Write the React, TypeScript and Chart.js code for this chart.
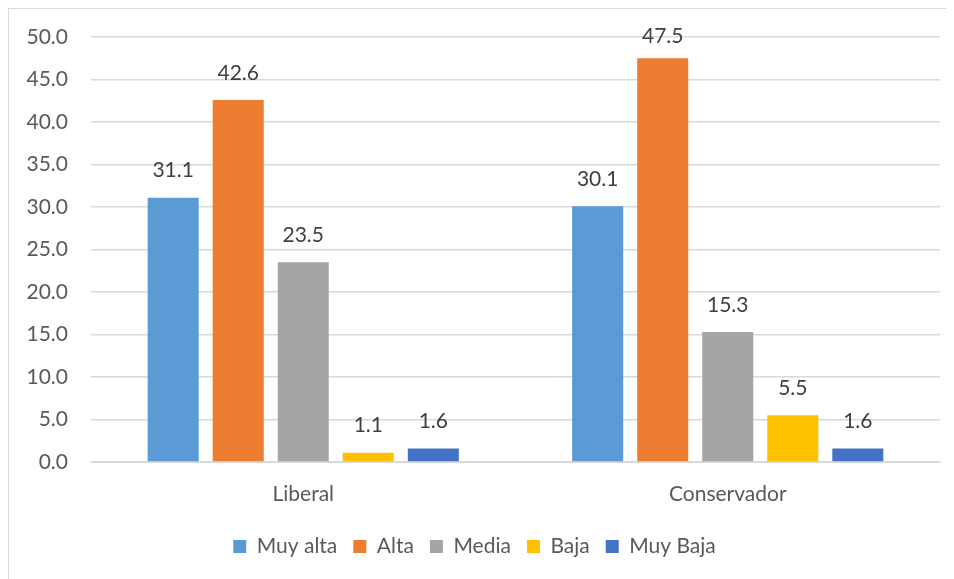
import React, { useEffect, useRef } from "react";
import { Chart, registerables } from "chart.js";

Chart.register(...registerables);

const categories = ["Liberal", "Conservador"];
const seriesNames = ["Muy alta", "Alta", "Media", "Baja", "Muy Baja"];
const muyAlta = [31.1, 30.1];
const alta = [42.6, 47.5];
const media = [23.5, 15.3];
const baja = [1.1, 5.5];
const muyBaja = [1.6, 1.6];
const seriesColors = ["#5B9BD5", "#ED7D31", "#A5A5A5", "#FFC000", "#4472C4"];
const yMin = 0;
const yMax = 50;
const yStep = 5;

const FONT = "Lato, 'Open Sans', sans-serif";

const dataLabelPlugin = {
  id: "dataLabels",
  afterDatasetsDraw(chart: any) {
    const ctx = chart.ctx;
    ctx.save();
    ctx.font = `21px ${FONT}`;
    ctx.fillStyle = "#404040";
    ctx.textAlign = "center";
    ctx.textBaseline = "middle";
    chart.data.datasets.forEach((ds: any, i: number) => {
      const meta = chart.getDatasetMeta(i);
      meta.data.forEach((el: any, j: number) => {
        const v = ds.data[j];
        const y = Math.max(el.y - 27, 27);
        ctx.fillText(v.toFixed(1), el.x, y);
      });
    });
    ctx.restore();
  },
};

export default function App() {
  const ref = useRef<HTMLCanvasElement>(null);
  useEffect(() => {
    document.documentElement.style.overflow = "hidden";
    const values = [muyAlta, alta, media, baja, muyBaja];
    const chart = new Chart(ref.current!, {
      type: "bar",
      data: {
        labels: categories,
        datasets: seriesNames.map((name, i) => ({
          label: name,
          data: values[i],
          backgroundColor: seriesColors[i],
          borderWidth: 0,
          categoryPercentage: 0.766,
          barPercentage: 0.785,
        })),
      },
      options: {
        animation: false,
        responsive: false,
        maintainAspectRatio: false,
        layout: { padding: { left: 0, right: 14, top: 28, bottom: 12 } },
        plugins: {
          legend: {
            position: "bottom",
            labels: {
              boxWidth: 13,
              boxHeight: 13,
              padding: 16,
              color: "#595959",
              font: { family: FONT, size: 21 },
            },
          },
          tooltip: { enabled: false },
        },
        scales: {
          x: {
            grid: { display: false, drawTicks: false },
            border: { display: true, color: "#d9d9d9", width: 1 },
            ticks: { color: "#595959", font: { family: FONT, size: 21 }, padding: 20 },
            afterFit: (s: any) => {
              s.height = 58;
            },
          },
          y: {
            min: yMin,
            max: yMax,
            grid: { color: "#d9d9d9", lineWidth: 1.5, drawTicks: false },
            border: { display: false },
            ticks: {
              stepSize: yStep,
              color: "#595959",
              font: { family: FONT, size: 21 },
              padding: 23,
              callback: (v: any) => Number(v).toFixed(1),
            },
            afterFit: (s: any) => {
              s.width = 82;
              s.paddingTop = 12;
              s.paddingBottom = 12;
            },
          },
        },
      },
      plugins: [dataLabelPlugin],
    });
    return () => chart.destroy();
  }, []);
  return (
    <div
      style={{
        borderLeft: "1px solid #d9d9d9",
        borderTop: "1px solid #d9d9d9",
        width: 945,
        height: 570,
        background: "#fff",
      }}
    >
      <canvas ref={ref} width={945} height={570} style={{ display: "block" }} />
    </div>
  );
}
